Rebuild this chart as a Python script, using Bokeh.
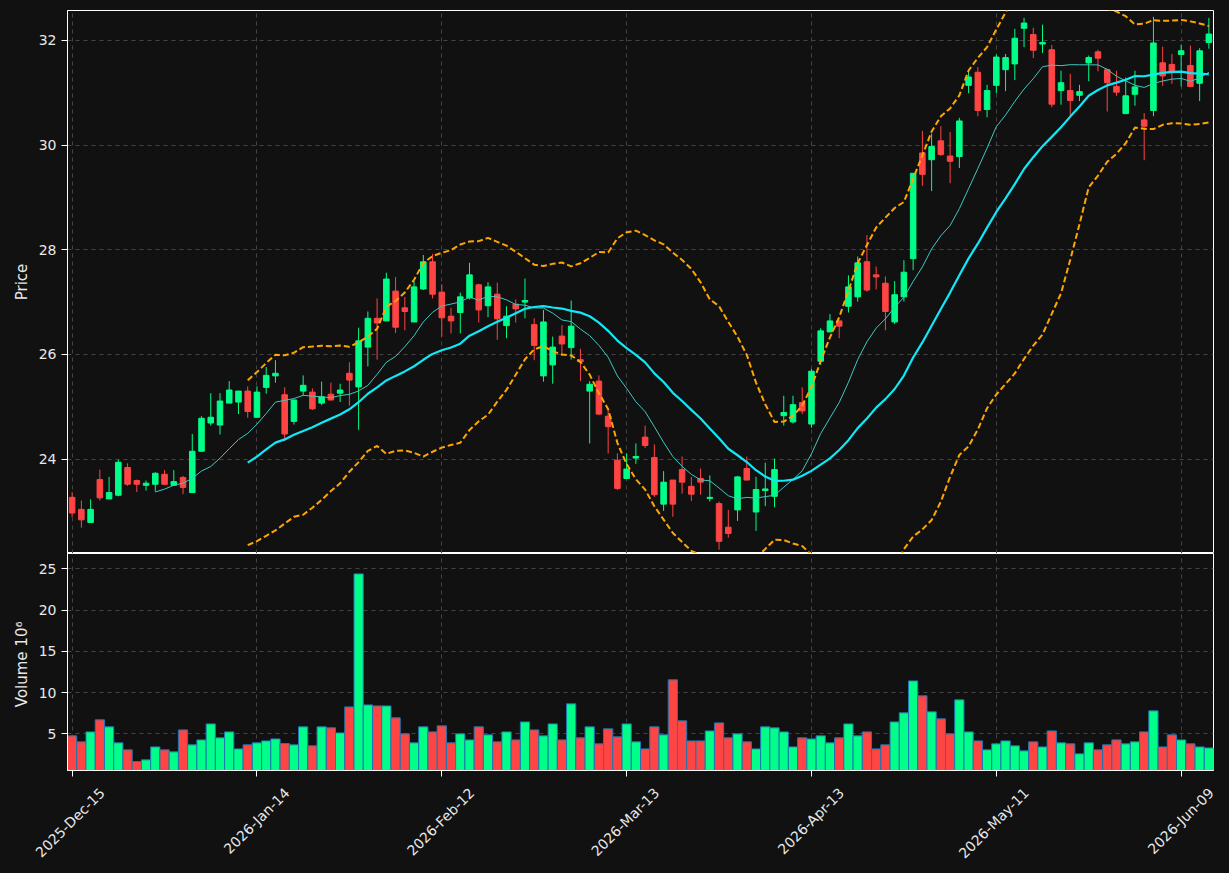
import numpy as np
import pandas as pd
from bokeh.plotting import figure
from bokeh.layouts import column
from bokeh.models import Range1d, FixedTicker, ColumnDataSource, LinearAxis
from bokeh.embed import file_html
from bokeh.resources import INLINE

# ---------------- data ----------------
tick_pos = [0, 20, 40, 60, 80, 100, 120]
tick_labels = ["2025-Dec-15", "2026-Jan-14", "2026-Feb-12", "2026-Mar-13",
               "2026-Apr-13", "2026-May-11", "2026-Jun-09"]

open_ = [23.27, 23.04, 22.79, 23.61, 23.24, 23.31, 23.84, 23.59, 23.50, 23.52,
         23.71, 23.50, 23.65, 23.36, 24.15, 24.69, 24.65, 25.07, 25.09, 25.30,
         24.80, 25.37, 25.59, 25.23, 24.72, 25.30, 25.28, 25.07, 25.24, 25.26,
         25.64, 25.38, 26.14, 26.69, 26.64, 27.21, 26.89, 26.62, 27.25, 27.77,
         27.19, 26.73, 26.80, 27.08, 27.33, 26.93, 27.15, 26.55, 26.96, 27.00,
         26.57, 25.59, 25.80, 26.35, 26.13, 25.90, 25.30, 25.49, 24.82, 23.98,
         23.63, 24.02, 24.42, 24.03, 23.14, 23.60, 23.80, 23.48, 23.63, 23.25,
         23.15, 22.70, 23.03, 23.82, 22.99, 23.40, 23.29, 24.83, 24.71, 25.08,
         24.67, 25.87, 26.43, 26.64, 26.92, 27.10, 27.77, 27.52, 27.36, 26.62,
         27.10, 27.83, 29.85, 29.72, 30.08, 29.79, 29.78, 31.14, 31.39, 30.68,
         31.14, 31.44, 31.55, 32.23, 32.11, 31.93, 31.82, 31.04, 31.04, 30.95,
         31.57, 31.78, 31.44, 31.12, 30.60, 30.97, 30.48, 30.66, 31.57, 31.54,
         31.73, 31.52, 31.18, 31.96]
high = [23.37, 23.21, 23.23, 23.80, 23.66, 23.99, 23.92, 23.61, 23.59, 23.75,
        23.79, 23.79, 23.68, 24.48, 24.82, 25.26, 25.26, 25.49, 25.30, 25.39,
        25.39, 25.76, 25.89, 25.37, 25.13, 25.60, 25.35, 25.48, 25.46, 25.44,
        25.85, 26.51, 26.82, 27.07, 27.56, 27.48, 27.10, 27.40, 27.90, 27.92,
        27.34, 26.89, 27.18, 27.75, 27.35, 27.38, 27.37, 26.92, 27.05, 27.45,
        26.69, 26.85, 26.34, 26.56, 27.03, 26.11, 25.49, 25.60, 24.92, 24.11,
        24.11, 24.30, 24.64, 24.28, 23.77, 23.60, 24.05, 23.66, 23.82, 23.69,
        23.19, 23.03, 23.68, 24.05, 23.66, 23.93, 24.01, 25.21, 25.21, 25.37,
        25.72, 26.50, 26.77, 26.64, 27.51, 27.87, 28.28, 27.68, 27.49, 27.40,
        27.80, 29.46, 30.27, 30.22, 30.36, 30.25, 30.52, 31.42, 31.49, 31.15,
        31.73, 31.74, 32.22, 32.43, 32.24, 32.30, 31.91, 31.42, 31.36, 31.15,
        31.71, 31.82, 31.46, 31.42, 31.29, 31.42, 30.61, 32.45, 31.88, 31.74,
        31.92, 31.90, 31.85, 32.43]
low = [22.89, 22.69, 22.78, 23.21, 23.24, 23.29, 23.49, 23.37, 23.40, 23.38,
       23.50, 23.50, 23.33, 23.35, 24.15, 24.64, 24.47, 25.07, 24.86, 24.79,
       24.79, 25.25, 25.46, 24.34, 24.66, 25.22, 24.94, 25.03, 25.12, 25.09,
       25.02, 24.56, 25.77, 25.90, 26.64, 26.41, 26.46, 26.62, 27.23, 27.07,
       26.34, 26.40, 26.40, 27.05, 26.61, 26.71, 26.28, 26.31, 26.61, 26.69,
       25.89, 25.48, 25.44, 25.97, 25.90, 25.49, 24.30, 24.84, 24.11, 23.41,
       23.63, 23.91, 24.21, 23.28, 23.01, 22.90, 23.34, 23.20, 23.32, 23.19,
       22.27, 22.50, 22.82, 23.60, 22.63, 23.10, 23.08, 24.64, 24.68, 24.86,
       24.60, 25.80, 26.43, 26.31, 26.80, 27.01, 27.20, 27.24, 26.46, 26.58,
       27.01, 27.61, 29.22, 29.12, 29.79, 29.27, 29.56, 30.99, 30.55, 30.53,
       30.99, 31.03, 31.24, 31.87, 31.66, 31.76, 30.72, 30.77, 30.58, 30.84,
       31.22, 31.41, 30.64, 30.94, 30.60, 30.75, 29.71, 30.55, 31.13, 31.17,
       31.12, 31.11, 30.84, 31.84]
close = [22.97, 22.84, 23.04, 23.26, 23.36, 23.94, 23.52, 23.52, 23.54, 23.73,
         23.52, 23.57, 23.46, 24.15, 24.78, 24.80, 25.11, 25.32, 25.30, 24.91,
         25.28, 25.60, 25.64, 24.48, 25.13, 25.41, 24.96, 25.19, 25.13, 25.32,
         25.51, 26.26, 26.69, 26.60, 27.44, 26.52, 26.82, 27.29, 27.77, 27.15,
         26.70, 26.64, 27.10, 27.52, 26.85, 27.29, 26.68, 26.73, 26.87, 27.03,
         26.17, 26.62, 26.14, 26.20, 26.54, 25.86, 25.43, 24.86, 24.62, 23.44,
         23.81, 24.05, 24.26, 23.32, 23.56, 23.14, 23.56, 23.33, 23.56, 23.27,
         22.43, 22.58, 23.66, 23.60, 23.42, 23.43, 23.80, 24.89, 25.04, 24.92,
         25.68, 26.45, 26.64, 26.54, 27.29, 27.75, 27.23, 27.48, 26.82, 27.14,
         27.57, 29.46, 29.44, 29.97, 29.82, 29.69, 30.46, 31.30, 30.66, 31.04,
         31.68, 31.67, 32.04, 32.33, 31.81, 31.96, 30.78, 31.19, 30.85, 31.02,
         31.67, 31.66, 31.19, 31.01, 30.94, 31.11, 30.36, 31.95, 31.32, 31.38,
         31.80, 31.12, 31.80, 32.12]
volume = [4.76, 4.03, 5.24, 6.70, 5.85, 3.91, 3.06, 1.65, 1.85, 3.42,
          3.06, 2.82, 5.48, 3.67, 4.27, 6.21, 4.52, 5.24, 3.18, 3.67,
          3.91, 4.15, 4.39, 3.83, 3.67, 5.85, 3.55, 5.85, 5.73, 5.12,
          8.27, 24.39, 8.51, 8.39, 8.39, 6.94, 5.00, 3.91, 5.85, 5.24,
          5.97, 3.91, 5.00, 4.27, 5.85, 4.88, 4.03, 5.24, 4.27, 6.45,
          5.48, 4.76, 6.21, 4.27, 8.64, 4.52, 5.85, 3.79, 5.61, 4.64,
          6.21, 4.03, 3.18, 5.85, 4.88, 11.55, 6.58, 4.15, 4.15, 5.36,
          6.33, 4.52, 5.00, 4.03, 3.18, 5.85, 5.73, 5.24, 3.42, 4.52,
          4.39, 4.76, 3.91, 4.52, 6.21, 4.76, 5.24, 3.18, 3.67, 6.45,
          7.55, 11.42, 9.61, 7.67, 6.82, 5.00, 9.12, 5.24, 4.15, 3.06,
          3.79, 4.15, 3.55, 2.94, 4.03, 3.42, 5.36, 3.91, 3.79, 2.58,
          3.91, 3.06, 3.67, 4.27, 3.79, 4.03, 5.24, 7.79, 3.42, 4.88,
          4.27, 3.79, 3.42, 3.30]

# ---------------- derived ----------------
UP = "#00ff88"
DOWN = "#ff4444"
BG = "#111111"
FONT = "DejaVu Sans"
TXT = "#e8e8e8"

n = len(close)
x = np.arange(n)
o = np.array(open_); c = np.array(close)
colors = [UP if c[i] >= o[i] else DOWN for i in range(n)]
cs = pd.Series(c)
sma10 = cs.rolling(10).mean()
sma20 = cs.rolling(20).mean()
std20 = cs.rolling(20).std(ddof=0)
upper = sma20 + 2 * std20
lower = sma20 - 2 * std20

src = ColumnDataSource(dict(
    x=x, open=o, close=c, high=high, low=low,
    top=np.maximum(o, c), bottom=np.minimum(o, c), color=colors, vol=volume,
    sma10=sma10.values, sma20=sma20.values, upper=upper.values, lower=lower.values,
))


def style(fig):
    fig.background_fill_color = BG
    fig.border_fill_color = BG
    fig.outline_line_color = "white"
    fig.outline_line_width = 1
    for ax in fig.axis:
        ax.axis_line_color = "white"
        ax.major_tick_line_color = "white"
        ax.minor_tick_line_color = None
        ax.major_tick_out = 6
        ax.major_tick_in = 0
        ax.major_label_text_color = TXT
        ax.major_label_text_font = FONT
        ax.major_label_text_font_size = "14px"
        ax.axis_label_text_color = TXT
        ax.axis_label_text_font = FONT
        ax.axis_label_text_font_size = "15px"
        ax.axis_label_text_font_style = "normal"
    for g in fig.grid:
        g.grid_line_color = "#444444"
        g.grid_line_dash = "4 4"
        g.grid_line_width = 1


xr = Range1d(-0.5, n - 0.5)

# ---------------- price panel ----------------
p = figure(width=1229, height=553, x_range=xr, y_range=Range1d(22.197, 32.57),
           output_backend="svg", toolbar_location=None,
           min_border_left=67, min_border_right=16, min_border_top=10, min_border_bottom=0)
p.segment("x", "high", "x", "low", color="color", line_width=1, source=src)
p.vbar("x", 0.6, "top", "bottom", fill_color="color", line_color="color", source=src)
p.line("x", "sma10", color="#3fc8c0", line_width=1, source=src)
p.line("x", "sma20", color="#10e8f8", line_width=2.2, source=src)
p.line("x", "upper", color="#ffa500", line_width=2, line_dash="6 3", source=src)
p.line("x", "lower", color="#ffa500", line_width=2, line_dash="6 3", source=src)
p.xaxis.visible = False
p.xgrid.ticker = FixedTicker(ticks=tick_pos)
p.yaxis.ticker = FixedTicker(ticks=[24, 26, 28, 30, 32])
p.ygrid.ticker = FixedTicker(ticks=[24, 26, 28, 30, 32])
p.yaxis.axis_label = "Price"
style(p)

# ---------------- volume panel ----------------
vy0, vy1 = 0.56, 26.86
v = figure(width=1229, height=320, x_range=xr, y_range=Range1d(vy0, vy1),
           output_backend="svg", toolbar_location=None,
           min_border_left=67, min_border_right=16, min_border_top=0, min_border_bottom=103)
v.vbar("x", 1.0, "vol", 0, fill_color="color", line_color="#1f77b4", line_width=1, source=src)
main_xaxis = v.xaxis[0]
main_xaxis.ticker = FixedTicker(ticks=tick_pos)
main_xaxis.major_label_overrides = {tp: "" for tp in tick_pos}
v.xgrid.ticker = FixedTicker(ticks=tick_pos)
v.yaxis.ticker = FixedTicker(ticks=[5, 10, 15, 20, 25])
v.ygrid.ticker = FixedTicker(ticks=[5, 10, 15, 20, 25])
v.yaxis.axis_label = "Volume  10⁶"

# label axis: same ticks, shifted so the rotated labels sit centred under the ticks
shift = 3.25
v.extra_x_ranges = {"lab": Range1d(-0.5 - shift, n - 0.5 - shift)}
lab_axis = LinearAxis(x_range_name="lab", ticker=FixedTicker(ticks=tick_pos),
                      major_label_overrides={tp: lb for tp, lb in zip(tick_pos, tick_labels)},
                      major_label_orientation=np.pi / 4)
v.add_layout(lab_axis, "below")
style(v)
main_xaxis.major_label_standoff = 0
lab_axis.axis_line_color = None
lab_axis.major_tick_line_color = None
lab_axis.major_tick_out = 0
lab_axis.major_tick_in = 0
lab_axis.major_label_standoff = 14

layout = column(p, v, spacing=0)
layout.styles = {"background-color": BG}
html = file_html(layout, INLINE)
html = html.replace("<body>", '<body style="margin:0;background:#111111;">')
open("out.html", "w").write(html)
